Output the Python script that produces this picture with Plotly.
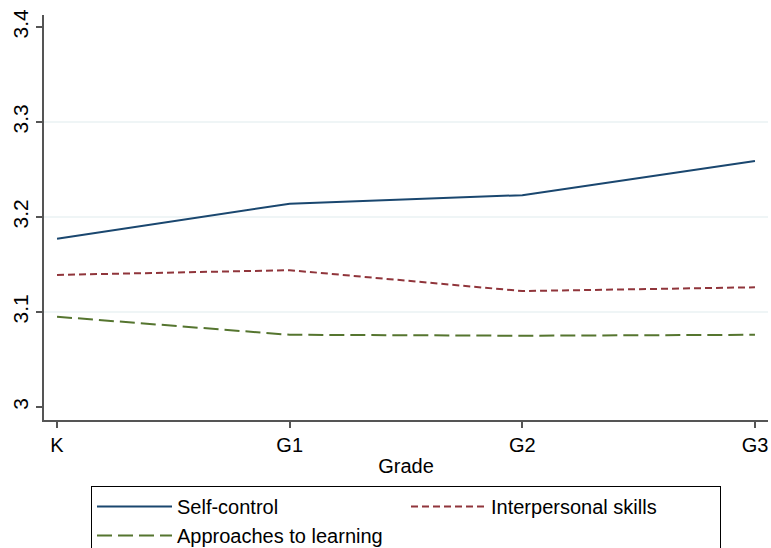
import plotly.graph_objects as go

# Mean ratings by grade
grades = ["K", "G1", "G2", "G3"]
self_control = [3.177, 3.214, 3.223, 3.259]
interpersonal = [3.139, 3.144, 3.122, 3.126]
approaches = [3.095, 3.076, 3.075, 3.076]

y_ticks = [3, 3.1, 3.2, 3.3, 3.4]
y_tick_text = ["3", "3.1", "3.2", "3.3", "3.4"]
grid_levels = [3.1, 3.2, 3.3]

FONT = "Liberation Sans, Arial, Helvetica, sans-serif"
x_idx = list(range(len(grades)))

fig = go.Figure()
fig.add_trace(go.Scatter(
    x=x_idx, y=self_control, mode="lines", name="Self-control",
    line=dict(color="#1a476f", width=2),
))
fig.add_trace(go.Scatter(
    x=x_idx, y=interpersonal, mode="lines", name="Interpersonal skills",
    line=dict(color="#90353b", width=2, dash="7px,4px"),
))
fig.add_trace(go.Scatter(
    x=x_idx, y=approaches, mode="lines", name="Approaches to learning",
    line=dict(color="#55752f", width=2, dash="15px,6px"),
))

# light horizontal reference lines
for g in grid_levels:
    fig.add_shape(type="line", xref="paper", x0=0, x1=1, yref="y", y0=g, y1=g,
                  line=dict(color="#eaf2f3", width=1.5), layer="below")

fig.update_layout(
    width=771, height=548,
    margin=dict(l=44, r=3, t=15, b=128, autoexpand=False),
    paper_bgcolor="white", plot_bgcolor="white",
    font=dict(family=FONT, color="black", size=20),
    showlegend=True,
    legend=dict(
        orientation="h", x=0.5, xanchor="center", y=-0.163, yanchor="top",
        entrywidth=224, entrywidthmode="pixels", itemwidth=75,
        bordercolor="black", borderwidth=1, bgcolor="white",
        font=dict(size=20, family=FONT), tracegroupgap=0,
        traceorder="normal",
    ),
    xaxis=dict(
        range=[-0.056, 3.056], tickmode="array", tickvals=x_idx, ticktext=grades,
        showgrid=False, zeroline=False, showline=True, linecolor="#555", linewidth=1.5,
        ticks="outside", ticklen=6, tickcolor="#555", tickwidth=1.5,
        tickfont=dict(size=20), title=dict(text="Grade", font=dict(size=20), standoff=4),
    ),
    yaxis=dict(
        range=[2.9863, 3.4126], tickmode="array", tickvals=y_ticks, ticktext=y_tick_text,
        showgrid=False, zeroline=False, showline=True, linecolor="#555", linewidth=1.5,
        ticks="outside", ticklen=6, tickcolor="#555", tickwidth=1.5,
        tickangle=-90, tickfont=dict(size=21),
    ),
)

fig.write_html("out.html")
